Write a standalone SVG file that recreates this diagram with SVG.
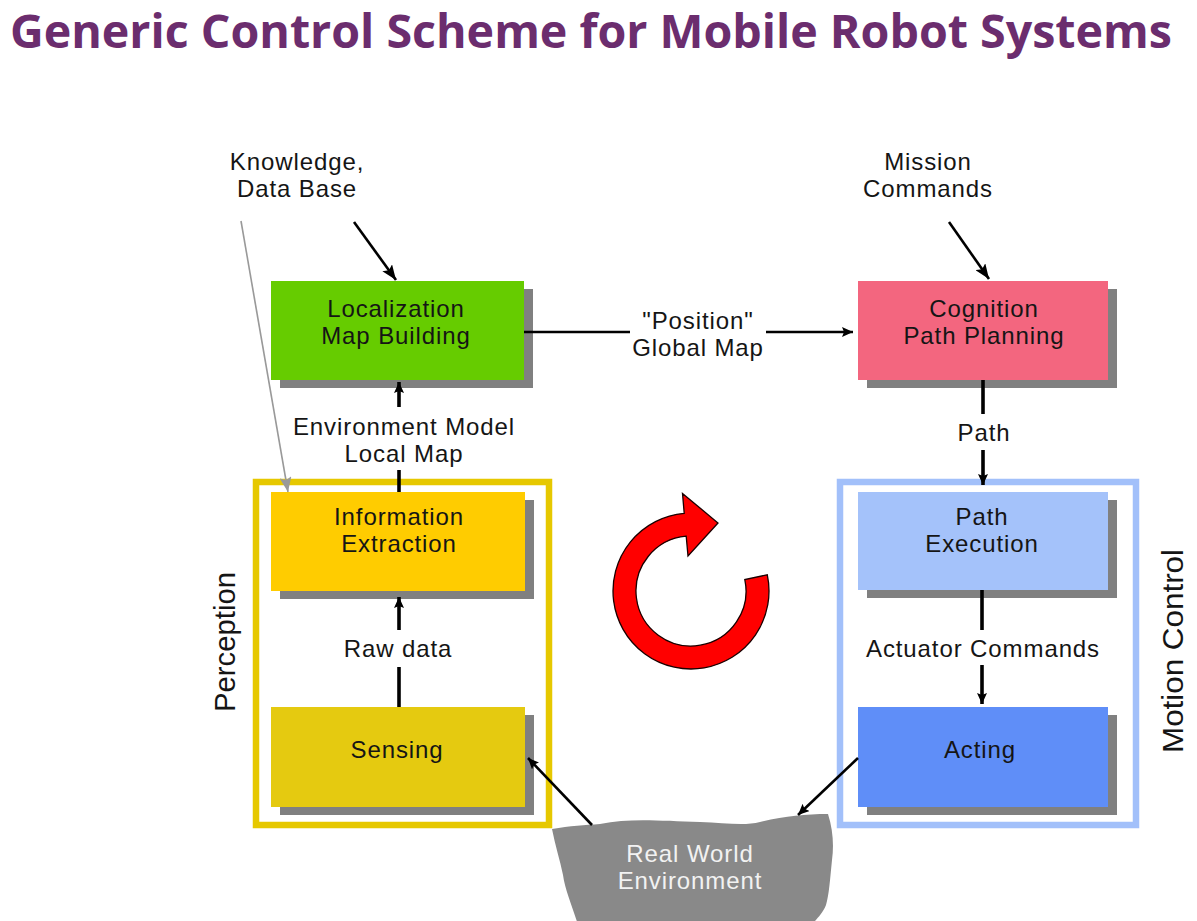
<svg xmlns="http://www.w3.org/2000/svg" width="1197" height="921" viewBox="0 0 1197 921">
<style>
text{font-family:"Liberation Sans","Open Sans",sans-serif;fill:#151515;font-size:24px;letter-spacing:0.9px;text-anchor:middle}
.title{font-family:"Open Sans","Liberation Sans",sans-serif;font-size:46px;font-weight:bold;fill:#6B2D6E;text-anchor:start;letter-spacing:0}
.side{font-size:29px;letter-spacing:0}
.env{fill:#F2F2F2}
.shadow{fill:#808080}
.frame{fill:none;stroke-width:6.5}
.conn{stroke:#000;fill:none;stroke-width:2.6}
.vconn{stroke:#000;fill:none;stroke-width:3.6}
</style>
<defs>
<marker id="ah" markerUnits="userSpaceOnUse" markerWidth="16" markerHeight="12" refX="15" refY="6" orient="auto">
<path d="M0,0 L15,6 L0,12 L3,6 z" fill="#000"/>
</marker>
<marker id="ahs" markerUnits="userSpaceOnUse" markerWidth="12" markerHeight="10" refX="11" refY="5" orient="auto">
<path d="M0,0 L11,5 L0,10 L2,5 z" fill="#000"/>
</marker>
<marker id="ahg" markerUnits="userSpaceOnUse" markerWidth="16" markerHeight="12" refX="15" refY="6" orient="auto">
<path d="M0,0 L15,6 L0,12 L3,6 z" fill="#999"/>
</marker>
</defs>

<text class="title" x="10" y="48" textLength="1162" lengthAdjust="spacingAndGlyphs">Generic Control Scheme for Mobile Robot Systems</text>

<g id="perception-frame">
<rect class="frame" x="256" y="482" width="293" height="343" stroke="#E6C800"/>
<text class="side" transform="translate(235,642) rotate(-90)" textLength="140" lengthAdjust="spacingAndGlyphs">Perception</text>
</g>
<g id="motion-frame">
<rect class="frame" x="840" y="482" width="296" height="343" stroke="#A2C0FA"/>
<text class="side" transform="translate(1183,651) rotate(-90)" textLength="204" lengthAdjust="spacingAndGlyphs">Motion Control</text>
</g>

<g id="knowledge">
<text x="297" y="170">Knowledge,</text>
<text x="297" y="197">Data Base</text>
</g>
<g id="mission">
<text x="928" y="170">Mission</text>
<text x="928" y="197">Commands</text>
</g>

<g id="localization">
<rect class="shadow" x="280" y="289" width="253" height="99"/>
<rect x="271" y="281" width="253" height="99" fill="#66CC00"/>
<text x="396" y="317">Localization</text>
<text x="396" y="344">Map Building</text>
</g>
<g id="cognition">
<rect class="shadow" x="867" y="289" width="250" height="99"/>
<rect x="858" y="281" width="250" height="99" fill="#F3667F"/>
<text x="984" y="317">Cognition</text>
<text x="984" y="344">Path Planning</text>
</g>
<g id="information-extraction">
<rect class="shadow" x="280" y="500" width="254" height="99"/>
<rect x="271" y="492" width="254" height="99" fill="#FFCC00"/>
<text x="399" y="525">Information</text>
<text x="399" y="552">Extraction</text>
</g>
<g id="sensing">
<rect class="shadow" x="280" y="715" width="254" height="100"/>
<rect x="271" y="707" width="254" height="100" fill="#E5CA10"/>
<text x="397" y="758">Sensing</text>
</g>
<g id="path-execution">
<rect class="shadow" x="867" y="500" width="250" height="98"/>
<rect x="858" y="492" width="250" height="98" fill="#A4C2FA"/>
<text x="982" y="525">Path</text>
<text x="982" y="552">Execution</text>
</g>
<g id="acting">
<rect class="shadow" x="867" y="715" width="250" height="100"/>
<rect x="858" y="707" width="250" height="100" fill="#5F8EF8"/>
<text x="980" y="758">Acting</text>
</g>
<g id="real-world">
<path d="M552,829 C570,826 585,825 600,824 C630,818 660,821 700,822 C725,823 745,826 760,822 C785,816 805,814 828,814 C833,830 834,845 832,860 C830,880 829,895 826,905 C822,915 815,920 812,925 L578,925 C572,905 565,890 563,875 C560,860 555,845 552,829 Z" fill="#898989"/>
<text class="env" x="690" y="862">Real World</text>
<text class="env" x="690" y="889">Environment</text>
</g>

<g id="cycle">
<path d="M767.3,574.8 A78,78 0 1 1 684.2,513.3 L682.5,493.4 L718,523 L688,556 L686.2,536.2 A55,55 0 1 0 744.8,579.6 Z" fill="#FF0000" stroke="#1a0000" stroke-width="1.3" stroke-linejoin="miter"/>
</g>

<g id="connectors">
<line class="conn" x1="354" y1="222" x2="396" y2="280" marker-end="url(#ah)"/>
<line class="conn" x1="949" y1="222" x2="989" y2="279" marker-end="url(#ah)"/>
<line x1="241" y1="221" x2="288" y2="492" stroke="#999" stroke-width="1.6" marker-end="url(#ahg)"/>
<line class="conn" x1="524" y1="332" x2="630" y2="332"/>
<line class="conn" x1="766" y1="332" x2="853" y2="332" marker-end="url(#ahs)"/>
<text x="698" y="329">"Position"</text>
<text x="698" y="356">Global Map</text>
<line class="vconn" x1="399" y1="492" x2="399" y2="470"/>
<line class="vconn" x1="399" y1="407" x2="399" y2="382" marker-end="url(#ahs)"/>
<text x="404" y="435">Environment Model</text>
<text x="404" y="462">Local Map</text>
<line class="vconn" x1="983" y1="380" x2="983" y2="414"/>
<line class="vconn" x1="983" y1="450" x2="983" y2="485" marker-end="url(#ahs)"/>
<text x="984" y="441">Path</text>
<line class="vconn" x1="399" y1="707" x2="399" y2="667"/>
<line class="vconn" x1="399" y1="630" x2="399" y2="597" marker-end="url(#ahs)"/>
<text x="398" y="657">Raw data</text>
<line class="vconn" x1="982" y1="590" x2="982" y2="630"/>
<line class="vconn" x1="982" y1="665" x2="982" y2="704" marker-end="url(#ahs)"/>
<text x="983" y="657">Actuator Commands</text>
<line class="conn" x1="592" y1="825" x2="528" y2="758" marker-end="url(#ahs)"/>
<line class="conn" x1="858" y1="758" x2="798" y2="815" marker-end="url(#ahs)"/>
</g>
</svg>
